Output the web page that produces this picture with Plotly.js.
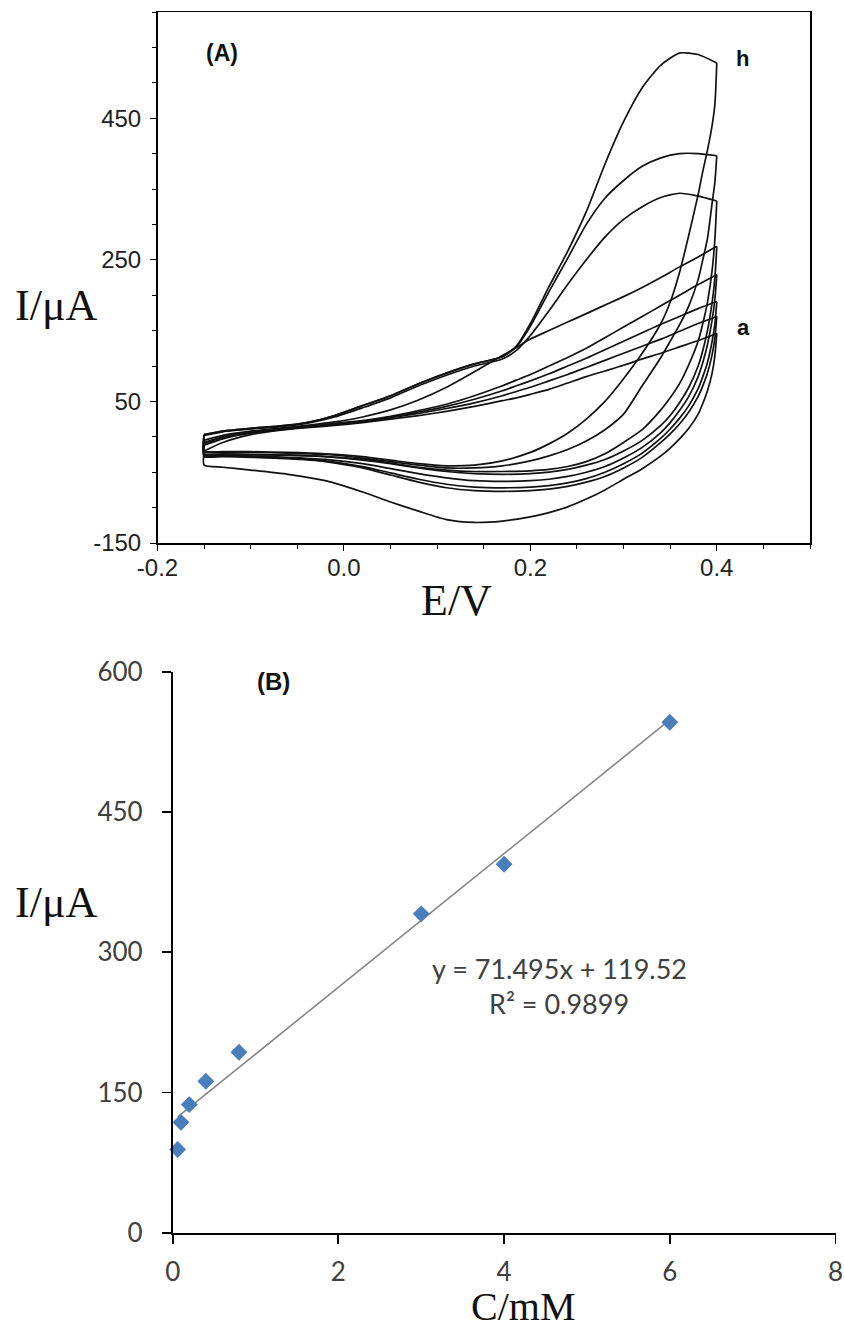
<!DOCTYPE html>
<html>
<head>
<meta charset="utf-8">
<script src="https://cdn.plot.ly/plotly-3.0.1.min.js"></script>
<style>html,body{margin:0;padding:0;background:#fff;}#chart{width:844px;height:1333px;}</style>
</head>
<body>
<div id="chart"></div>
<script>
// ---------- Panel (A): cyclic voltammograms ----------
// potential grids (V) shared by all scans
const E_fwd = [-0.15, -0.13, -0.1, -0.07, -0.04, -0.01, 0.02, 0.05, 0.08, 0.11, 0.14, 0.17, 0.185, 0.2, 0.22, 0.24, 0.26, 0.28, 0.3, 0.32, 0.34, 0.36, 0.38, 0.4];
const E_rev = [0.4, 0.398, 0.395, 0.39, 0.385, 0.38, 0.37, 0.36, 0.35, 0.34, 0.32, 0.3, 0.28, 0.26, 0.24, 0.22, 0.2, 0.17, 0.14, 0.11, 0.08, 0.05, 0.02, -0.02, -0.06, -0.1, -0.13, -0.15];

// currents (µA), anodic (forward) branches
const I_h_fwd = [3, 8, 12, 15, 20, 30, 44, 58, 75, 90, 103, 113, 128, 160, 212, 262, 318, 385, 445, 493, 525, 542, 540, 528];
const I_g_fwd = [3, 8, 12, 15, 20, 30, 44, 58, 75, 90, 103, 113, 127, 156, 205, 252, 300, 337, 362, 382, 394, 400, 400, 397];
const I_f_fwd = [2, 7, 11, 14, 19, 28, 41, 55, 72, 87, 100, 110, 122, 143, 178, 215, 250, 282, 307, 325, 338, 344, 340, 333];
const I_e_fwd = [-5, 2, 8, 12, 16, 21, 28, 38, 52, 70, 92, 115, 126, 138, 150, 162, 174, 186, 198, 211, 225, 240, 254, 269];
const I_d_fwd = [-8, 0, 7, 11, 15, 19, 23, 29, 37, 46, 58, 72, 80, 88, 100, 112, 125, 140, 155, 170, 185, 200, 215, 229];
const I_c_fwd = [-10, -1, 6, 10, 14, 18, 22, 28, 35, 43, 53, 65, 72, 79, 89, 100, 111, 123, 135, 147, 159, 170, 181, 191];
const I_b_fwd = [-12, -3, 5, 10, 14, 17, 21, 27, 33, 40, 48, 58, 64, 70, 79, 88, 98, 108, 118, 128, 138, 149, 160, 170];
const I_a_fwd = [-20, -8, 3, 9, 13, 16, 20, 25, 30, 36, 43, 51, 55, 60, 67, 76, 85, 93, 101, 110, 118, 127, 136, 146];

// currents (µA), cathodic (reverse) branches
const I_h_rev = [528, 470, 440, 405, 375, 342, 285, 232, 190, 160, 118, 82, 50, 25, 5, -10, -22, -34, -40, -41, -38, -33, -28, -24, -22, -21, -21, -20];
const I_g_rev = [397, 360, 330, 280, 250, 222, 185, 158, 135, 112, 72, 32, 10, -6, -18, -27, -34, -41, -44, -44, -40, -35, -30, -25, -23, -22, -22, -21];
const I_f_rev = [333, 280, 235, 190, 160, 135, 102, 75, 55, 38, 10, -8, -24, -35, -42, -46, -48, -49, -49, -47, -43, -37, -32, -28, -26, -25, -25, -25];
const I_e_rev = [269, 225, 190, 150, 122, 100, 70, 48, 30, 16, -5, -20, -32, -40, -46, -50, -52, -53, -52, -49, -44, -38, -33, -28, -26, -25, -24, -24];
const I_d_rev = [229, 195, 165, 130, 105, 85, 57, 37, 20, 6, -15, -30, -42, -50, -56, -60, -62, -63, -62, -58, -52, -45, -38, -32, -29, -27, -26, -26];
const I_c_rev = [191, 160, 135, 105, 85, 68, 44, 26, 11, -2, -23, -38, -50, -59, -65, -69, -71, -72, -71, -67, -60, -51, -42, -34, -30, -28, -27, -27];
const I_b_rev = [170, 140, 116, 90, 72, 57, 35, 18, 4, -8, -29, -44, -56, -64, -70, -74, -76, -77, -76, -72, -64, -54, -44, -35, -31, -29, -28, -28];
const I_a_rev = [146, 115, 90, 65, 47, 32, 12, -3, -16, -27, -45, -60, -75, -88, -99, -107, -113, -119, -121, -117, -105, -92, -78, -62, -53, -47, -43, -40];

const curveNames = ['a', 'b', 'c', 'd', 'e', 'f', 'g', 'h'];
const fwdSets = [I_a_fwd, I_b_fwd, I_c_fwd, I_d_fwd, I_e_fwd, I_f_fwd, I_g_fwd, I_h_fwd];
const revSets = [I_a_rev, I_b_rev, I_c_rev, I_d_rev, I_e_rev, I_f_rev, I_g_rev, I_h_rev];

const xTickValsA = [-0.2, 0.0, 0.2, 0.4];
const xTickTextA = ['-0.2', '0.0', '0.2', '0.4'];
const yTickValsA = [-150, 50, 250, 450];
const yTickTextA = ['-150', '50', '250', '450'];

// ---------- Panel (B): calibration ----------
const conc_mM = [0.06, 0.1, 0.2, 0.4, 0.8, 3, 4, 6];
const peakCurrent_uA = [89, 118, 137, 162, 193, 341, 394, 546];
const fitSlope = 71.495;
const fitIntercept = 119.52;
const xTickValsB = [0, 2, 4, 6, 8];
const yTickValsB = [0, 150, 300, 450, 600];

// ---------- traces ----------
const traces = [];
const lineStyle = {color: '#111111', width: 1.7, shape: 'spline', smoothing: 0.6};
for (let k = 0; k < curveNames.length; k++) {
  const f = fwdSets[k], r = revSets[k];
  traces.push({x: E_fwd, y: f, mode: 'lines', line: lineStyle, xaxis: 'x', yaxis: 'y',
    showlegend: false, hoverinfo: 'skip', name: curveNames[k] + ' forward'});
  traces.push({x: E_rev.concat([E_fwd[0]]), y: r.concat([f[0]]), mode: 'lines', line: lineStyle,
    xaxis: 'x', yaxis: 'y', showlegend: false, hoverinfo: 'skip', name: curveNames[k] + ' reverse'});
}
const xFit = [Math.min.apply(null, conc_mM), Math.max.apply(null, conc_mM)];
traces.push({x: xFit, y: xFit.map(v => fitSlope * v + fitIntercept), mode: 'lines',
  line: {color: '#868686', width: 1.6}, xaxis: 'x2', yaxis: 'y2', showlegend: false, hoverinfo: 'skip'});
traces.push({x: conc_mM, y: peakCurrent_uA, mode: 'markers', cliponaxis: false,
  marker: {symbol: 'diamond', size: 13, color: '#4A7EBB'}, xaxis: 'x2', yaxis: 'y2', showlegend: false});

const W = 844, H = 1333;
const px = v => v / W, py = v => 1 - v / H;
const serif = 'Liberation Serif, Times New Roman, serif';
const sans = 'Liberation Sans, Arial, sans-serif';
const calib = 'Lato, Carlito, Calibri, sans-serif';

const layout = {
  width: W, height: H,
  margin: {l: 0, r: 0, t: 0, b: 0},
  paper_bgcolor: '#ffffff', plot_bgcolor: '#ffffff',
  showlegend: false,
  xaxis: {
    domain: [px(157.5), px(810)], range: [-0.2, 0.5], anchor: 'y',
    showline: true, linecolor: '#000', linewidth: 1.5, mirror: true,
    showgrid: false, zeroline: false,
    ticks: 'outside', ticklen: 6, tickwidth: 1, tickcolor: '#000',
    tickvals: xTickValsA, ticktext: xTickTextA,
    minor: {ticks: 'outside', dtick: 0.05, tick0: -0.2, ticklen: 4, tickwidth: 1, tickcolor: '#000', showgrid: false},
    tickfont: {family: sans, size: 24, color: '#222'}, ticklabelstandoff: -3
  },
  yaxis: {
    domain: [py(543), py(12)], range: [-150, 600], anchor: 'x',
    showline: true, linecolor: '#000', linewidth: 1.5, mirror: true,
    showgrid: false, zeroline: false,
    ticks: 'outside', ticklen: 6, tickwidth: 1, tickcolor: '#000',
    tickvals: yTickValsA, ticktext: yTickTextA,
    minor: {ticks: 'outside', dtick: 50, tick0: -150, ticklen: 4, tickwidth: 1, tickcolor: '#000', showgrid: false},
    tickfont: {family: sans, size: 24, color: '#222'}, ticklabelstandoff: 4
  },
  xaxis2: {
    domain: [px(172.7), px(835.5)], range: [0, 8], anchor: 'y2',
    showline: true, linecolor: '#000', linewidth: 1.8, mirror: false,
    showgrid: false, zeroline: false,
    ticks: 'outside', ticklen: 9, tickwidth: 1.8, tickcolor: '#000',
    tickvals: xTickValsB, ticktext: xTickValsB.map(String),
    tickfont: {family: calib, size: 26, color: '#404040'}, ticklabelstandoff: 6
  },
  yaxis2: {
    domain: [py(1232.7), py(671.7)], range: [0, 600], anchor: 'x2',
    showline: true, linecolor: '#000', linewidth: 1.8, mirror: false,
    showgrid: false, zeroline: false,
    ticks: 'outside', ticklen: 9, tickwidth: 1.8, tickcolor: '#000',
    tickvals: yTickValsB, ticktext: yTickValsB.map(String),
    tickfont: {family: calib, size: 26, color: '#404040'}, ticklabelstandoff: 14
  },
  annotations: [
    {text: 'I/\u03bcA', x: px(56), y: py(305), xref: 'paper', yref: 'paper', xanchor: 'center', yanchor: 'middle', showarrow: false, font: {family: serif, size: 44, color: '#111'}},
    {text: 'E/V', x: px(457), y: py(600), xref: 'paper', yref: 'paper', xanchor: 'center', yanchor: 'middle', showarrow: false, font: {family: serif, size: 44, color: '#111'}},
    {text: '<b>(A)</b>', x: px(222), y: py(53), xref: 'paper', yref: 'paper', xanchor: 'center', yanchor: 'middle', showarrow: false, font: {family: sans, size: 23, color: '#111'}},
    {text: '<b>h</b>', x: px(742), y: py(59), xref: 'paper', yref: 'paper', xanchor: 'center', yanchor: 'middle', showarrow: false, font: {family: sans, size: 22, color: '#111'}},
    {text: '<b>a</b>', x: px(743), y: py(328), xref: 'paper', yref: 'paper', xanchor: 'center', yanchor: 'middle', showarrow: false, font: {family: sans, size: 22, color: '#111'}},
    {text: 'I/\u03bcA', x: px(56), y: py(903), xref: 'paper', yref: 'paper', xanchor: 'center', yanchor: 'middle', showarrow: false, font: {family: serif, size: 44, color: '#111'}},
    {text: 'C/mM', x: px(523), y: py(1306), xref: 'paper', yref: 'paper', xanchor: 'center', yanchor: 'middle', showarrow: false, font: {family: serif, size: 40, color: '#111'}},
    {text: '<b>(B)</b>', x: px(273), y: py(681), xref: 'paper', yref: 'paper', xanchor: 'center', yanchor: 'middle', showarrow: false, font: {family: sans, size: 24, color: '#111'}},
    {text: 'y = 71.495x + 119.52', x: px(559), y: py(968), xref: 'paper', yref: 'paper', xanchor: 'center', yanchor: 'middle', showarrow: false, font: {family: calib, size: 27, color: '#404040'}},
    {text: 'R\u00b2 = 0.9899', x: px(559), y: py(1003), xref: 'paper', yref: 'paper', xanchor: 'center', yanchor: 'middle', showarrow: false, font: {family: calib, size: 27, color: '#404040'}}
  ]
};

Plotly.newPlot('chart', traces, layout, {staticPlot: true, displayModeBar: false});
</script>
</body>
</html>
